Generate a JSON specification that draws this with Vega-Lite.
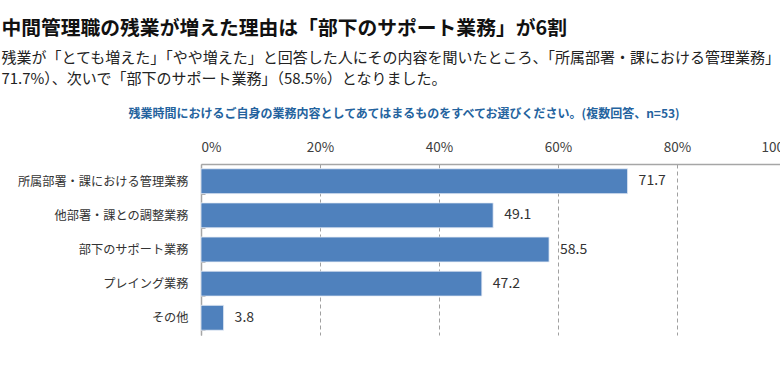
{
  "$schema": "https://vega.github.io/schema/vega-lite/v6.json",
  "autosize": "none",
  "width": 595,
  "height": 171,
  "padding": {"left": 201, "top": 164, "right": 0, "bottom": 38},
  "background": "white",
  "title": {
    "text": "中間管理職の残業が増えた理由は「部下のサポート業務」が6割",
    "subtitle": ["\u2002残業が「とても増えた」「やや増えた」と回答した人にその内容を聞いたところ、「所属部署・課における管理業務」（", "71.7%）、次いで「部下のサポート業務」（58.5%）となりました。"],
    "anchor": "start",
    "frame": "bounds",
    "dx": -16,
    "offset": 20,
    "font": "Noto Sans CJK JP",
    "fontSize": 19.8,
    "fontWeight": "bold",
    "color": "#111111",
    "subtitleFont": "Noto Sans CJK JP",
    "subtitleFontSize": 15,
    "subtitleColor": "#222222",
    "subtitleLineHeight": 21,
    "subtitlePadding": 12
  },
  "data": {
    "values": [
      {"item": "所属部署・課における管理業務", "pct": 71.7},
      {"item": "他部署・課との調整業務", "pct": 49.1},
      {"item": "部下のサポート業務", "pct": 58.5},
      {"item": "プレイング業務", "pct": 47.2},
      {"item": "その他", "pct": 3.8}
    ]
  },
  "encoding": {
    "y": {
      "field": "item",
      "type": "nominal",
      "sort": null,
      "scale": {"paddingInner": 0.27, "paddingOuter": 0.14},
      "axis": {
        "title": null,
        "labelFont": "Noto Sans CJK JP",
        "labelFontSize": 12.2,
        "labelLimit": 300,
        "labelColor": "#333333",
        "labelPadding": 17,
        "tickBand": "extent",
        "tickSize": -4,
        "tickColor": "#A6A6A6",
        "domainColor": "#A6A6A6",
        "domainWidth": 1.5,
        "grid": false
      }
    },
    "x": {
      "field": "pct",
      "type": "quantitative",
      "scale": {"domain": [0, 100]},
      "axis": {
        "orient": "top",
        "values": [0, 20, 40, 60, 80, 100],
        "labelExpr": "datum.value + '%'",
        "labelFont": "Noto Sans CJK JP",
        "labelFontSize": 13.5,
        "labelColor": "#404040",
        "labelPadding": 10,
        "ticks": false,
        "domainColor": "#A6A6A6",
        "domainWidth": 1.5,
        "grid": true,
        "gridColor": "#A0A0A0",
        "gridDash": [4, 3],
        "gridWidth": 1,
        "title": "残業時間におけるご自身の業務内容としてあてはまるものをすべてお選びください。(複数回答、n=53)",
        "titleFont": "Noto Sans CJK JP",
        "titleFontSize": 12,
        "titleFontWeight": "bold",
        "titleColor": "#24639E",
        "titleAnchor": "start",
        "titleAlign": "left",
        "titleX": -73,
        "titleY": -51,
        "titleBaseline": "middle"
      }
    }
  },
  "layer": [
    {
      "mark": {"type": "bar", "color": "#4F81BD", "stroke": "#E8EEF6", "strokeWidth": 0.8}
    },
    {
      "mark": {"type": "text", "align": "left", "baseline": "middle", "dx": 11, "font": "Noto Sans CJK JP", "fontSize": 14, "color": "#333333"},
      "encoding": {"text": {"field": "pct", "type": "quantitative", "format": ".1f"}}
    }
  ],
  "config": {"view": {"stroke": null}}
}
